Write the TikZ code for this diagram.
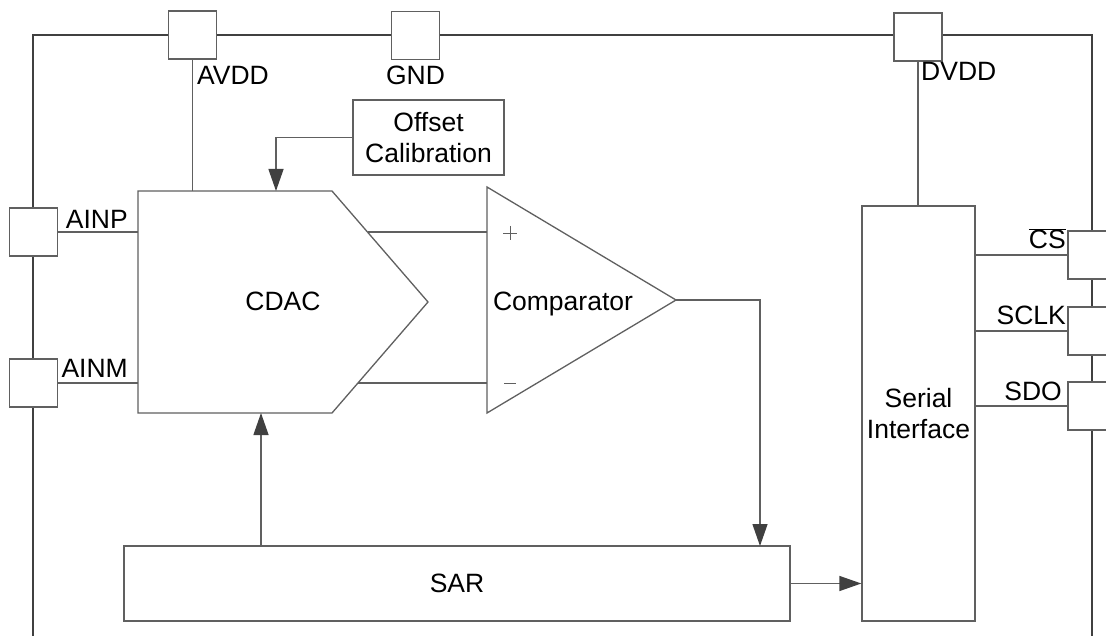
\documentclass[tikz,border=0pt]{standalone}
\usepackage{fontspec}
\setmainfont{Liberation Sans}
\usetikzlibrary{arrows.meta}
\definecolor{linec}{HTML}{606060}
\definecolor{darkc}{HTML}{404040}
\begin{document}
\begin{tikzpicture}[x=1bp,y=-1bp,
  lbl/.style={font=\fontsize{26.6}{32}\selectfont, inner sep=0pt},
  blk/.style={draw=linec, line width=1.3bp, fill=white, inner sep=0pt, font=\fontsize{26.6}{32}\selectfont, align=center},
  pin/.style={draw=linec, line width=1.4bp, fill=white, minimum size=48bp, inner sep=0pt},
  wire/.style={draw=linec, line width=1.3bp},
  arr/.style={wire, -{Triangle[length=22bp,width=15bp,color=darkc]}},
  outer/.style={draw=darkc, line width=2.8bp}
]
\useasboundingbox (0,0) rectangle (1106,636);
\clip (0,0) rectangle (1106,636);
\fill[white] (0,0) rectangle (1106,636);

% outer package outline
\draw[outer] (33,700) -- (33,35) -- (1092,35) -- (1092,700);

% pins
\node[pin] (avdd) at (192.5,35) {};
\node[pin] (gnd)  at (415.5,35.5) {};
\node[pin] (dvdd) at (918,37) {};
\node[pin] (ainp) at (33.5,232) {};
\node[pin] (ainm) at (33.5,383) {};
\node[pin] (cs)   at (1092,255) {};
\node[pin] (sclk) at (1092,331) {};
\node[pin] (sdo)  at (1092,406) {};

% pin labels
\node[lbl, anchor=base west] (lavdd) at (197,85) {AVDD};
\node[lbl, anchor=base] (lgnd) at (415.5,85) {GND};
\node[lbl, anchor=base west] (ldvdd) at (921,81) {DVDD};
\node[lbl, anchor=base east] (lainp) at (128,229) {AINP};
\node[lbl, anchor=base east] (lainm) at (128,377) {AINM};
\node[lbl, anchor=base east] (lcs) at (1066,249) {$\overline{\hbox{CS}}$};
\node[lbl, anchor=base east] (lsclk) at (1066,325) {SCLK};
\node[lbl, anchor=base east] (lsdo) at (1062,400) {SDO};

% CDAC (pentagon)
\coordinate (c1) at (138,191);
\coordinate (c2) at (332,191);
\coordinate (c3) at (428,302);
\coordinate (c4) at (332,413);
\coordinate (c5) at (138,413);
\draw[wire, fill=white] (c1) -- (c2) -- (c3) -- (c4) -- (c5) -- cycle;
\node[lbl, anchor=base] (cdac) at (283,311) {CDAC};
\coordinate (cdacP) at (367.5,232);
\coordinate (cdacM) at (358,383);
\coordinate (cdacTop) at (276,191);
\coordinate (cdacAvdd) at (192.5,191);
\coordinate (cdacBot) at (261,413);

% Comparator (triangle)
\coordinate (k1) at (487,187);
\coordinate (k2) at (676,300);
\coordinate (k3) at (487,413);
\draw[wire, fill=white] (k1) -- (k2) -- (k3) -- cycle;
\node[lbl, anchor=base] (comp) at (563,311) {Comparator};
\coordinate (kP) at (487,232);
\coordinate (kM) at (487,383);
\draw[draw=linec, line width=0.9bp] (503,233) -- (517,233) (510,226) -- (510,240);
\draw[draw=linec, line width=0.9bp] (504,383) -- (516,383);

% Offset calibration
\node[blk, minimum width=151bp, minimum height=75bp] (offs) at (428.5,137.5) {Offset\\Calibration};

% Serial interface
\node[blk, minimum width=113bp, minimum height=415bp] (ser) at (918.5,413.5) {Serial\\Interface};

% SAR
\node[blk, minimum width=666bp, minimum height=75bp] (sar) at (457,583.5) {SAR};

% wires
\draw[wire] (avdd.south) -- (cdacAvdd);
\draw[wire] (dvdd.south) -- (dvdd.south |- ser.north);
\draw[wire] (ainp.east) -- (ainp.east -| c1);
\draw[wire] (ainm.east) -- (ainm.east -| c1);
\draw[wire] (cdacP) -- (kP);
\draw[wire] (cdacM) -- (kM);
\draw[wire] (ser.east |- cs.west) -- (cs.west);
\draw[wire] (ser.east |- sclk.west) -- (sclk.west);
\draw[wire] (ser.east |- sdo.west) -- (sdo.west);

% arrows
\draw[arr] (offs.west) -| (cdacTop);
\coordinate (sarIn) at (760,546);
\draw[arr] (k2) -| (sarIn);
\coordinate (sarOut) at (261,546);
\draw[arr] (sarOut) -- (cdacBot);
\draw[arr] (sar.east) -- (sar.east -| ser.west);
\end{tikzpicture}
\end{document}
